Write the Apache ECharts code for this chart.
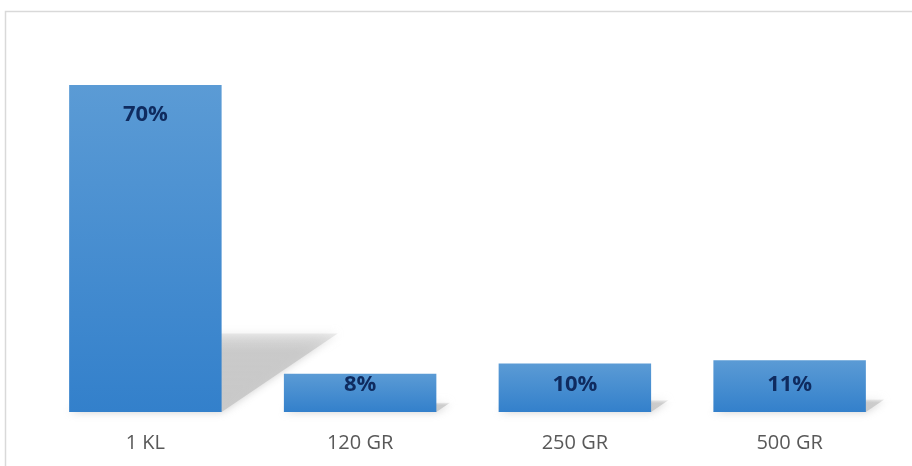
<!DOCTYPE html>
<html><head><meta charset="utf-8">
<script src="https://cdn.jsdelivr.net/npm/echarts@6/dist/echarts.min.js"></script>
<style>html,body{margin:0;padding:0;background:#fff}#c{width:912px;height:466px}</style>
</head><body><div id="c"></div>
<script>
const categories = ['1 KL', '120 GR', '250 GR', '500 GR'];
const shares = [70.2, 8.2, 10.4, 11.1];

const chart = echarts.init(document.getElementById('c'), null, {renderer: 'canvas'});
const barGrad = new echarts.graphic.LinearGradient(0, 0, 0, 1, [
  {offset: 0, color: '#5B9BD5'}, {offset: 1, color: '#3380CB'}
]);
const shadowGrad = new echarts.graphic.LinearGradient(0, 0, 0, 1, [
  {offset: 0, color: 'rgba(200,200,200,0.35)'}, {offset: 0.25, color: 'rgba(200,200,200,0.9)'}, {offset: 1, color: 'rgba(200,200,200,1)'}
]);
const barData = shares.map(v => ({
  value: v,
  label: v > 30 ? {position: 'insideTop', distance: 19} : {position: 'insideBottom', distance: 16}
}));
chart.setOption({
  animation: false,
  graphic: [{type: 'rect', shape: {x: 5.5, y: 11.5, width: 2000, height: 2000},
    style: {fill: 'none', stroke: '#D9D9D9', lineWidth: 1.5}, z: -1}],
  grid: {left: 38, right: 15, top: 39.4, bottom: 54},
  xAxis: {type: 'category', data: categories,
    axisLine: {show: false}, axisTick: {show: false},
    axisLabel: {color: '#595959', fontFamily: 'Open Sans', fontSize: 20, margin: 21}},
  yAxis: {type: 'value', min: 0, max: 80, show: false, splitLine: {show: false}},
  series: [
    {type: 'custom', z: 1, silent: true,
      data: shares.map((v, i) => [i, v]),
      renderItem: function (params, api) {
        const base = api.coord([api.value(0), 0]);
        const top = api.coord([api.value(0), api.value(1)]);
        const w = api.size([1, 0])[0] * 0.71;
        const h = (base[1] - top[1]) * 0.24;
        const sk = (base[1] - top[1]) * 0.355;
        const l = base[0] - w / 2, r = base[0] + w / 2;
        return {type: 'polygon',
          shape: {points: [[l, base[1]], [r, base[1]], [r + sk, base[1] - h], [l + sk, base[1] - h]]},
          style: {fill: shadowGrad, shadowBlur: 9, shadowColor: 'rgba(190,190,190,0.8)', opacity: 0.95}};
      }},
    {type: 'bar', z: 2, data: barData, barWidth: '71%',
      itemStyle: {color: barGrad},
      label: {show: true, formatter: p => Math.round(p.value) + '%',
        color: '#0F2B5F', fontFamily: 'Open Sans', fontWeight: 'bold', fontSize: 22}}
  ]
});
</script></body></html>
